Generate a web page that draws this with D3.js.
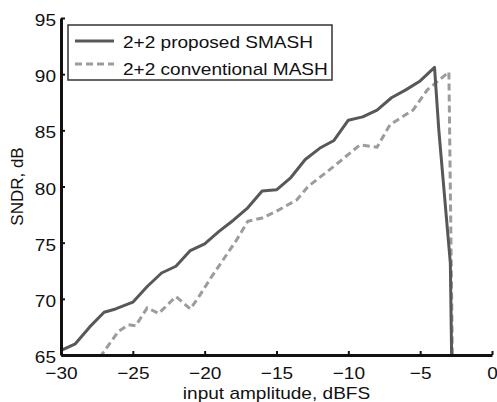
<!DOCTYPE html>
<meta charset="utf-8">
<script src="https://d3js.org/d3.v7.min.js"></script>
<style>
body { margin: 0; background-color: white; }
text { font-family: "Liberation Sans", Arial, sans-serif; }
</style>
<div id="chart"></div>
<script>
// proposed SMASH (solid)
var smashX = [-30, -29, -28, -27, -26.2, -25, -24, -23, -22, -21, -20, -19, -18, -17, -16, -15, -14, -13, -12, -11, -10, -9, -8, -7, -6, -5, -4, -3.7, -3.2, -2.9, -2.8];
var smashY = [65.4, 66.0, 67.5, 68.8, 69.1, 69.7, 71.1, 72.3, 72.9, 74.3, 74.9, 76.0, 77.0, 78.1, 79.6, 79.7, 80.8, 82.4, 83.4, 84.1, 85.9, 86.2, 86.8, 87.9, 88.6, 89.4, 90.6, 85.0, 77.6, 73.2, 64.0];
// conventional MASH (dashed)
var mashX = [-27.3, -26, -25.3, -24.8, -24, -23.2, -22, -21, -20.4, -19.5, -18.7, -17.8, -17, -16, -15, -13.6, -12.8, -11, -9.2, -8, -7.1, -5.5, -4.5, -3, -2.75];
var mashY = [64.8, 67.1, 67.7, 67.6, 69.2, 68.7, 70.2, 69.1, 70.2, 72.0, 73.5, 75.2, 76.9, 77.2, 77.8, 78.8, 80.0, 81.8, 83.7, 83.5, 85.5, 86.8, 88.6, 90.2, 64.0];

var xTicks = [-30, -25, -20, -15, -10, -5, 0];
var yTicks = [65, 70, 75, 80, 85, 90, 95];
var legendLabels = ["2+2 proposed SMASH", "2+2 conventional MASH"];

var width = 497, height = 402;
var margin = {top: 18, right: 5, bottom: 47, left: 61};
var fs = 17, stretch = 1.12;

var svg = d3.select("#chart").append("svg")
    .attr("width", width)
    .attr("height", height);

var x = d3.scaleLinear().domain([-30, 0]).range([margin.left, width - margin.right]);
var y = d3.scaleLinear().domain([65, 95]).range([height - margin.bottom, margin.top]);

svg.append("clipPath").attr("id", "clip")
  .append("rect")
    .attr("x", margin.left).attr("y", margin.top)
    .attr("width", x(0) - margin.left).attr("height", y(65) - margin.top);

var line = d3.line()
    .x(function(d) { return x(d[0]); })
    .y(function(d) { return y(d[1]); });

var plot = svg.append("g").attr("clip-path", "url(#clip)");

plot.append("path")
    .datum(mashX.map(function(v, i) { return [v, mashY[i]]; }))
    .attr("d", line)
    .attr("fill", "none")
    .attr("stroke", "#9c9c9c")
    .attr("stroke-width", 3)
    .attr("stroke-dasharray", "7,4");

plot.append("path")
    .datum(smashX.map(function(v, i) { return [v, smashY[i]]; }))
    .attr("d", line)
    .attr("fill", "none")
    .attr("stroke", "#585858")
    .attr("stroke-width", 3)
    .attr("stroke-linejoin", "round");

var fmt = function(d) { return d < 0 ? "\u2212" + Math.abs(d) : d; };

// x axis
var xAxis = svg.append("g")
    .attr("transform", "translate(0," + y(65) + ")")
    .call(d3.axisBottom(x).tickValues(xTicks).tickSizeInner(-4).tickSizeOuter(0).tickPadding(12).tickFormat(fmt));
xAxis.select(".domain").attr("stroke", "#111").attr("stroke-width", 3);
xAxis.selectAll(".tick line").attr("stroke", "#111").attr("stroke-width", 2);
xAxis.selectAll("text").attr("font-size", fs).attr("fill", "#111").attr("class", "wide")
    .style("font-family", "'Liberation Sans', Arial, sans-serif");

// y axis
var yAxis = svg.append("g")
    .attr("transform", "translate(" + x(-30) + ",0)")
    .call(d3.axisLeft(y).tickValues(yTicks).tickSizeInner(-4).tickSizeOuter(0).tickPadding(5));
yAxis.select(".domain").attr("stroke", "#111").attr("stroke-width", 3);
yAxis.selectAll(".tick line").attr("stroke", "#111").attr("stroke-width", 2);
yAxis.selectAll("text").attr("font-size", fs).attr("fill", "#111").attr("dy", "0.45em").attr("class", "wide")
    .style("font-family", "'Liberation Sans', Arial, sans-serif");

// axis titles
svg.append("text")
    .attr("class", "wide")
    .attr("x", (x(-30) + x(0)) / 2)
    .attr("y", 399)
    .attr("text-anchor", "middle")
    .attr("font-size", fs)
    .attr("fill", "#111")
    .text("input amplitude, dBFS");

svg.append("text")
    .attr("transform", "translate(23," + ((y(65) + y(95)) / 2) + ") rotate(-90)")
    .attr("text-anchor", "middle")
    .attr("font-size", fs)
    .attr("fill", "#111")
    .text("SNDR, dB");

// legend
var legend = svg.append("g").attr("transform", "translate(68,25)");
legend.append("rect")
    .attr("width", 264).attr("height", 55)
    .attr("fill", "white")
    .attr("stroke", "#333")
    .attr("stroke-width", 1.5);

legendLabels.forEach(function(lbl, i) {
  var ly = 16 + i * 23;
  legend.append("line")
      .attr("x1", 7).attr("x2", 46).attr("y1", ly).attr("y2", ly)
      .attr("stroke", i === 0 ? "#585858" : "#9c9c9c")
      .attr("stroke-width", 3)
      .attr("stroke-dasharray", i === 0 ? null : "7,4");
  legend.append("text")
      .attr("class", "wide")
      .attr("x", 55).attr("y", ly + 7 + i * 3.5)
      .attr("font-size", fs)
      .attr("fill", "#111")
      .text(lbl);
});

// the reference type is a little wider than Liberation Sans
svg.selectAll("text.wide").each(function() {
  var w = this.getComputedTextLength();
  d3.select(this).attr("textLength", w * stretch).attr("lengthAdjust", "spacingAndGlyphs");
});
</script>
